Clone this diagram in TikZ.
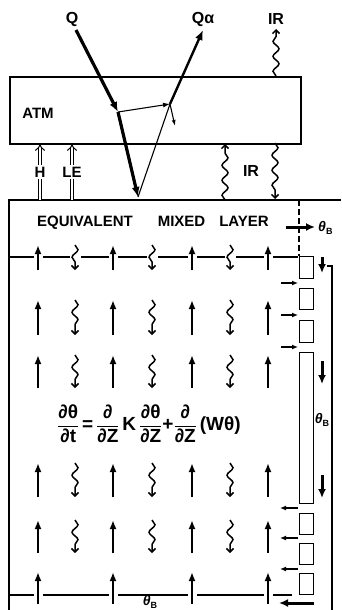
\documentclass[tikz,border=0pt]{standalone}
\usepackage{fontspec}
\setmainfont{Liberation Sans}
\usetikzlibrary{arrows.meta,decorations.pathmorphing}
\newcommand\thB{{\itshape θ}\raisebox{-2.5pt}{\fontsize{9}{9}\selectfont B}}
\newcommand\sfm[1]{\mbox{\bfseries #1}}
\begin{document}
\begin{tikzpicture}[x=1pt,y=-1pt,
  box/.style={line width=1.6pt},
  lbl/.style={font=\bfseries\fontsize{15}{15}\selectfont, inner sep=0pt},
  slbl/.style={font=\bfseries\fontsize{14}{14}\selectfont, inner sep=0pt},
  uparr/.style={line width=2.6pt,-{Latex[length=9pt,width=7pt]}},
  smarr/.style={line width=1.5pt,-{Latex[length=6pt,width=5pt]}},
  bigarr/.style={line width=3pt,-{Latex[length=9pt,width=8pt]}},
  thinarr/.style={line width=1.1pt,-{Latex[length=7pt,width=5pt]}},
  wav/.style={line width=1.5pt, decorate,
     decoration={snake,amplitude=3pt,segment length=15pt,post length=5pt},
     -{Straight Barb[length=3.5pt,width=7pt]}},
  dbl/.style={double,double distance=2.4pt,line width=1pt,-{Implies}},
  rect/.style={draw,line width=1.4pt,minimum width=14pt,inner sep=0pt},
]
\useasboundingbox (0,0) rectangle (341,610);
% ATM box
\node[draw,box,minimum width=291pt,minimum height=67pt,anchor=north west,inner sep=0pt] (atm) at (9,76) {};
\node[lbl] (atmlbl) at (38,113) {ATM};
% outer layer box
\draw[box] (9,610) -- (9,200) -- (341,200);
\draw[box] (327,266) -- (332,266) -- (332,610);
\node[lbl] (eml) at (153,223) {EQUIVALENT\hspace*{25pt}MIXED\hspace*{14pt}LAYER};
% radiation
\coordinate (Qs) at (76,30);
\coordinate (B) at (118,112);
\coordinate (S) at (138,197);
\coordinate (R) at (170,104);
\coordinate (Qe) at (203,30);
\node[lbl,font=\bfseries\fontsize{16}{16}\selectfont] (Q) at (72,19) {Q};
\node[lbl,font=\bfseries\fontsize{16}{16}\selectfont] (Qa) at (203,19) {Qα};
\draw[line width=3.2pt,-{Latex[length=10pt,width=8pt]}] (Qs) -- (B);
\draw[line width=3.2pt,-{Latex[length=10pt,width=8pt]}] (B) -- (S);
\draw[line width=1.1pt] (S) -- (R);
\draw[line width=2.4pt,-{Latex[length=10pt,width=8pt]}] (R) -- (Qe);
\draw[thinarr] (B) -- (R);
\coordinate (Rd) at (175,126);
\draw[line width=1.1pt,-{Latex[length=6pt,width=4pt]}] (R) -- (Rd);
% IR
\node[lbl,font=\bfseries\fontsize{16}{16}\selectfont] (IRt) at (276,19) {IR};
\coordinate (irt0) at (276,76); \coordinate (irt1) at (276,29);
\draw[wav] (irt0) -- (irt1);
\coordinate (ira0) at (225,200); \coordinate (ira1) at (225,144);
\draw[wav] (ira0) -- (ira1);
\coordinate (irb0) at (275,143); \coordinate (irb1) at (275,199);
\draw[wav] (irb0) -- (irb1);
\node[lbl,font=\bfseries\fontsize{16}{16}\selectfont] (IRm) at (251,171) {IR};
% H and LE
\coordinate (h0) at (40,200); \coordinate (h1) at (40,144);
\coordinate (le0) at (72,200); \coordinate (le1) at (72,144);
\draw[dbl] (h0) -- node[fill=white,lbl,inner ysep=2pt] (H) {H} (h1);
\draw[dbl] (le0) -- node[fill=white,lbl,inner ysep=2pt] (LE) {LE} (le1);
% dashed vertical and top theta_B
\draw[line width=1.4pt,dash pattern=on 6pt off 3pt] (299,200) -- (299,256);
\coordinate (tb0) at (286,227); \coordinate (tb1) at (315,227);
\draw[bigarr] (tb0) -- (tb1);
\node[slbl,anchor=west] (thBt) at (318,228) {\thB};
% rectangles
\node[rect,minimum height=22pt,anchor=north west] (r1) at (299,256) {};
\node[rect,minimum height=21pt,anchor=north west] (r2) at (299,288) {};
\node[rect,minimum height=22pt,anchor=north west] (r3) at (299,320) {};
\node[rect,minimum height=151pt,anchor=north west] (r4) at (299,352) {};
\node[rect,minimum height=21pt,anchor=north west] (r5) at (299,513) {};
\node[rect,minimum height=21pt,anchor=north west] (r6) at (299,543) {};
\node[rect,minimum height=21pt,anchor=north west] (r7) at (299,573) {};
\foreach \y in {283,315,347}{\draw[smarr] (281,\y) -- (298,\y);}
\foreach \y in {508,538,569}{\draw[smarr] (298,\y) -- (280,\y);}
\coordinate (bb0) at (314,603); \coordinate (bb1) at (279,603);
\draw[bigarr] (bb0) -- (bb1);
\foreach \a/\b in {257/273,361/384,475/498}{\draw[bigarr] (322,\a) -- (322,\b);}
\node[slbl] (thBr) at (322,420) {\thB};
% horizontal broken lines
\draw[line width=1.3pt] (9,257) -- (34,257) (43,257) -- (70,257) (81,257) -- (109,257)
   (118,257) -- (147,257) (158,257) -- (188,257) (197,257) -- (225,257)
   (236,257) -- (264,257) (273,257) -- (298,257);
\draw[line width=1.3pt] (9,595) -- (34,595) (43,595) -- (109,595) (118,595) -- (188,595)
   (197,595) -- (264,595) (273,595) -- (292,595);
\node[slbl] (thBb) at (150,602) {\thB};
% arrow rows
\foreach \t/\b in {245/270,300/335,355/388,463/497,520/553}{
  \foreach \x in {38,113,192,268}{\draw[uparr] (\x,\b) -- (\x,\t);}
  \foreach \x in {75,152,230}{\draw[wav] (\x,\t) -- (\x,\b);}
}
\foreach \x in {38,113,192,268}{\draw[uparr] (\x,604) -- (\x,572);}
% equation
\node[inner sep=0pt,font=\bfseries\fontsize{19}{19}\selectfont] (eq) at (149,424)
 {$\displaystyle\frac{\sfm{∂θ}}{\sfm{∂t}}\,\sfm{=}\,\frac{\sfm{∂}}{\sfm{∂Z}}\,\sfm{K}\,\frac{\sfm{∂θ}}{\sfm{∂Z}}\sfm{+}\frac{\sfm{∂}}{\sfm{∂Z}}\,\sfm{(Wθ)}$};
\end{tikzpicture}
\end{document}
